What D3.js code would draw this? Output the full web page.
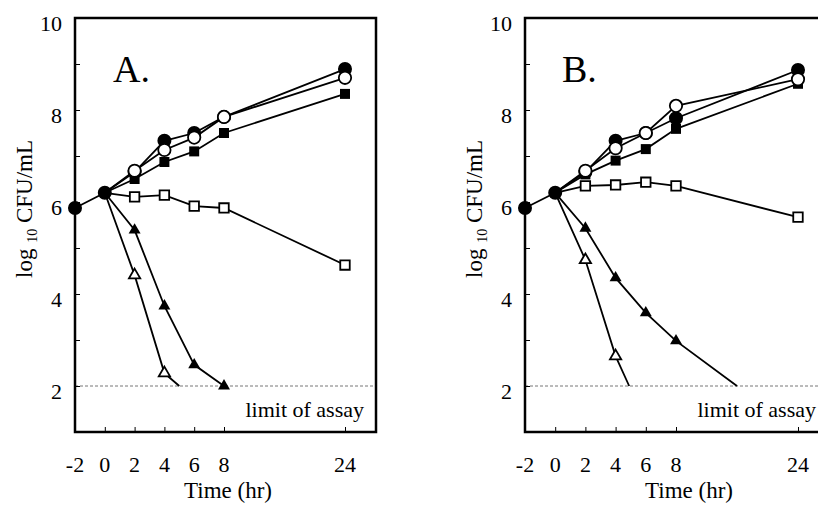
<!DOCTYPE html>
<html>
<head>
<meta charset="utf-8">
<script src="https://cdn.jsdelivr.net/npm/d3@7/dist/d3.min.js"></script>
<style>
  html, body { margin: 0; padding: 0; background: #fff; }
  svg { display: block; font-family: "Liberation Serif", "Times New Roman", serif; }
</style>
</head>
<body>
<svg id="chart" width="818" height="506"></svg>
<script>
// time points (hr)
const hours = [-2, 0, 2, 4, 6, 8, 24];
const xTickLabels = ['-2', '0', '2', '4', '6', '8', '24'];
const yTickLabels = [2, 4, 6, 8, 10];
const assayLimit = 2;

// panel A (log10 CFU/mL)
const A_filledCircle = [5.87, 6.2, 6.65, 7.33, 7.5, 7.85, 8.89];
const A_openCircle = [null, 6.2, 6.68, 7.13, 7.4, 7.85, 8.7];
const A_filledSquare = [null, 6.2, 6.5, 6.87, 7.1, 7.5, 8.35];
const A_openSquare = [null, 6.2, 6.11, 6.15, 5.91, 5.87, 4.63];
const A_filledTriHours = [0, 2, 4, 6, 8];
const A_filledTri = [6.2, 5.39, 3.74, 2.46, 2.0];
const A_openTriHours = [0, 2, 4, 5.0];
const A_openTri = [6.2, 4.41, 2.28, 2.0];

// panel B
const B_filledCircle = [5.87, 6.2, 6.65, 7.33, 7.5, 7.82, 8.87];
const B_openCircle = [null, 6.2, 6.68, 7.17, 7.5, 8.09, 8.67];
const B_filledSquare = [null, 6.2, 6.6, 6.9, 7.15, 7.59, 8.57];
const B_openSquare = [null, 6.2, 6.35, 6.37, 6.43, 6.35, 5.67];
const B_filledTriHours = [0, 2, 4, 6, 8, 16];
const B_filledTri = [6.2, 5.43, 4.35, 3.59, 2.98, 2.0];
const B_openTriHours = [0, 2, 4, 4.9];
const B_openTri = [6.2, 4.74, 2.65, 2.0];

const svg = d3.select('#chart');
const y = d3.scaleLinear().domain([1, 10]).range([432, 18]);

function pairs(xs, vs) {
  return xs.map((h, i) => ({ h, v: vs[i] })).filter(d => d.v != null);
}

const panels = [
  {
    label: 'A.', xRange: [75, 224, 345], right: 376, labelX: 113, yTitleX: 32, timeX: 228,
    series: [
      { shape: 'triangle', filled: false, pts: pairs(A_openTriHours, A_openTri) },
      { shape: 'triangle', filled: true, pts: pairs(A_filledTriHours, A_filledTri) },
      { shape: 'square', filled: false, pts: pairs(hours, A_openSquare) },
      { shape: 'square', filled: true, pts: pairs(hours, A_filledSquare) },
      { shape: 'circle', filled: true, pts: pairs(hours, A_filledCircle) },
      { shape: 'circle', filled: false, pts: pairs(hours, A_openCircle) }
    ]
  },
  {
    label: 'B.', xRange: [525, 676, 798], right: 828, labelX: 562, yTitleX: 482, timeX: 689,
    series: [
      { shape: 'triangle', filled: false, pts: pairs(B_openTriHours, B_openTri) },
      { shape: 'triangle', filled: true, pts: pairs(B_filledTriHours, B_filledTri) },
      { shape: 'square', filled: false, pts: pairs(hours, B_openSquare) },
      { shape: 'square', filled: true, pts: pairs(hours, B_filledSquare) },
      { shape: 'circle', filled: true, pts: pairs(hours, B_filledCircle) },
      { shape: 'circle', filled: false, pts: pairs(hours, B_openCircle) }
    ]
  }
];

const symbolFor = {
  circle: f => d3.symbol(d3.symbolCircle, f ? 154 : 120)(),
  square: f => d3.symbol(d3.symbolSquare, f ? 100 : 90)(),
  triangle: f => d3.symbol(d3.symbolTriangle, f ? 62 : 55)()
};

panels.forEach(p => {
  const x = d3.scaleLinear().domain([-2, 8, 24]).range(p.xRange);
  const left = x(-2), top = y(10), bottom = y(1);
  const g = svg.append('g');

  // assay limit line
  g.append('line')
    .attr('x1', left).attr('x2', p.right)
    .attr('y1', y(assayLimit)).attr('y2', y(assayLimit))
    .attr('stroke', '#777').attr('stroke-width', 1)
    .attr('stroke-dasharray', '3,2');

  g.append('text')
    .attr('x', p.right - 12).attr('y', 417)
    .attr('text-anchor', 'end').attr('font-size', 22)
    .text('limit of assay');

  // inward ticks
  const yAxis = d3.axisRight(y).tickValues(d3.range(1, 11)).tickSize(5).tickFormat('');
  g.append('g').attr('transform', `translate(${left},0)`).call(yAxis)
    .call(s => s.select('.domain').remove())
    .call(s => s.selectAll('line').attr('stroke-width', 1));
  const xAxis = d3.axisTop(x).tickValues(hours.slice(1)).tickSize(5).tickFormat('');
  g.append('g').attr('transform', `translate(0,${bottom})`).call(xAxis)
    .call(s => s.select('.domain').remove())
    .call(s => s.selectAll('line').attr('stroke-width', 1));

  // frame
  g.append('rect')
    .attr('x', left).attr('y', top)
    .attr('width', p.right - left).attr('height', bottom - top)
    .attr('fill', 'none').attr('stroke', '#000').attr('stroke-width', 2.5);

  // tick labels
  g.selectAll('.ylab').data(yTickLabels).join('text')
    .attr('x', left - 13).attr('y', d => y(d) + 12.5)
    .attr('text-anchor', 'end').attr('font-size', 22)
    .text(d => d);
  g.selectAll('.xlab').data(hours).join('text')
    .attr('x', d => x(d)).attr('y', 472)
    .attr('text-anchor', 'middle').attr('font-size', 22)
    .text((d, i) => xTickLabels[i]);

  // titles
  g.append('text')
    .attr('x', p.timeX).attr('y', 498)
    .attr('text-anchor', 'middle').attr('font-size', 23)
    .text('Time (hr)');
  const yt = g.append('text')
    .attr('transform', `translate(${p.yTitleX},209) rotate(-90)`)
    .attr('text-anchor', 'middle').attr('font-size', 23);
  yt.append('tspan').text('log ');
  yt.append('tspan').attr('font-size', 14).attr('dy', 5).text('10');
  yt.append('tspan').attr('dy', -5).text(' CFU/mL');

  g.append('text')
    .attr('x', p.labelX).attr('y', 82)
    .attr('font-size', 38)
    .text(p.label);

  // lines
  const line = d3.line().x(d => x(d.h)).y(d => y(d.v));
  p.series.forEach(s => {
    g.append('path').datum(s.pts)
      .attr('d', line)
      .attr('fill', 'none').attr('stroke', '#000').attr('stroke-width', 1.8);
  });

  // markers
  p.series.forEach(s => {
    const marked = s.pts.filter(d => hours.includes(d.h) && (d.h > 0 || s.shape === 'circle' && s.filled));
    g.selectAll(null).data(marked).join('path')
      .attr('transform', d => `translate(${x(d.h)},${y(d.v)})`)
      .attr('d', symbolFor[s.shape](s.filled))
      .attr('fill', s.filled ? '#000' : '#fff')
      .attr('stroke', '#000')
      .attr('stroke-width', s.filled ? 0 : 1.8);
  });
});
</script>
</body>
</html>
